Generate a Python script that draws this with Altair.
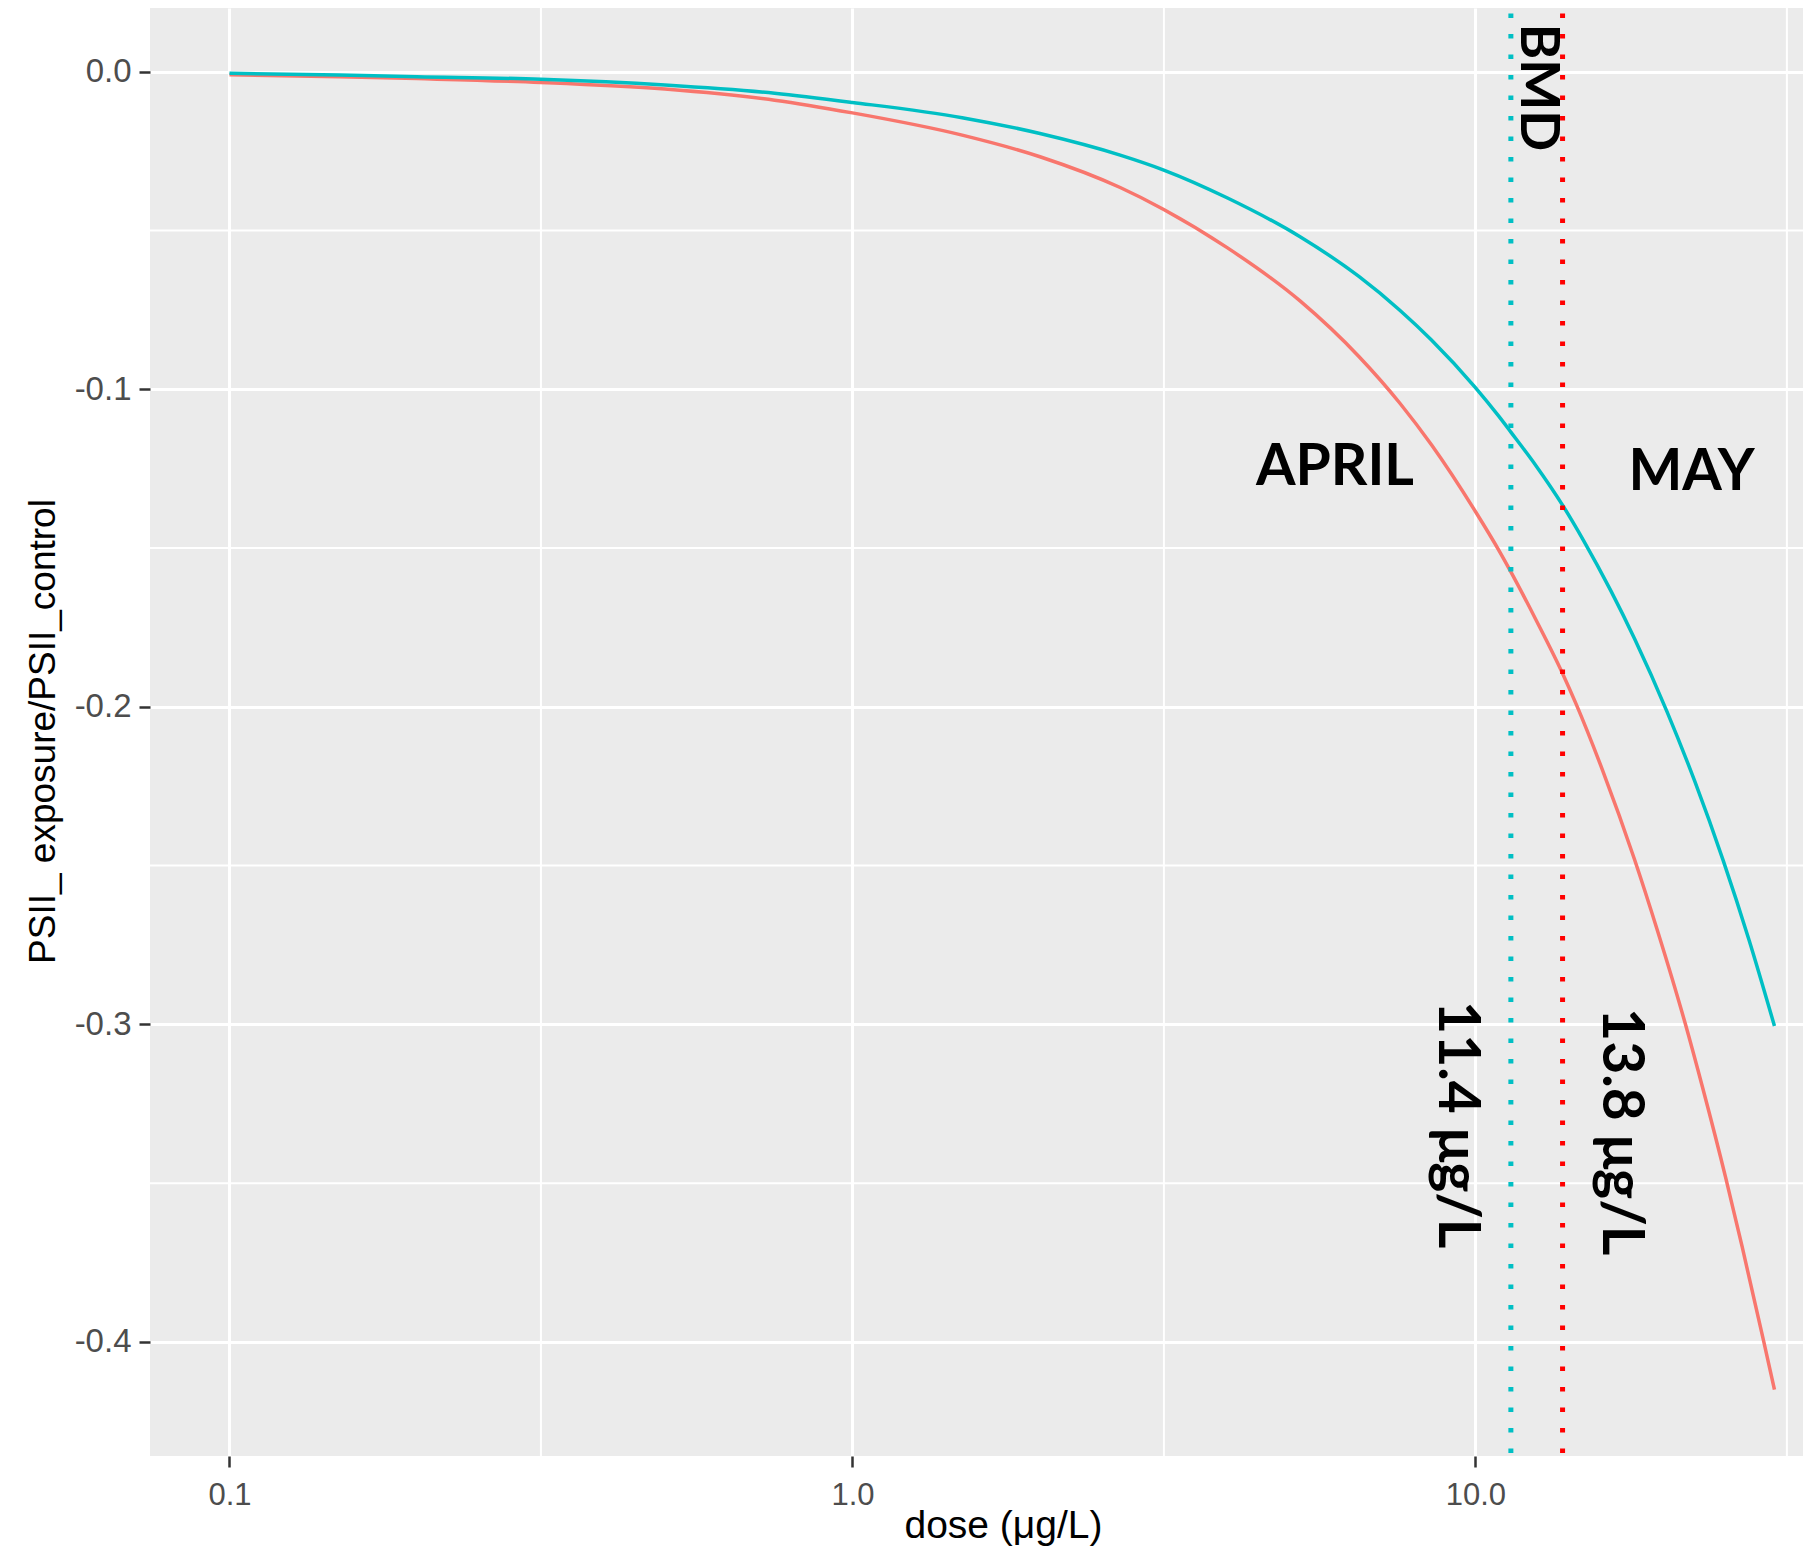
import altair as alt
import pandas as pd

# ---- data ----
april_dose = [0.1, 0.15, 0.2, 0.316, 0.5, 0.75, 1.0, 1.5, 2.0, 2.69, 3.16, 4.0, 5.23, 6.5, 7.57,
              8.5, 10.0, 10.94, 11.4, 12.5, 13.8, 14.5, 16.0, 18.0, 19.6, 21.7, 23.2, 25.2, 26.8, 29.0, 30.2]
april_resp = [-0.0010, -0.0016, -0.0022, -0.0034, -0.0055, -0.0090, -0.0130, -0.0200, -0.0268, -0.0365,
              -0.0434, -0.0555, -0.0722, -0.0897, -0.1045, -0.1175, -0.1385, -0.1512, -0.1575, -0.1725,
              -0.1895, -0.1990, -0.2200, -0.2480, -0.2705, -0.2995, -0.3205, -0.3480, -0.3700, -0.3995, -0.4150]

may_dose = [0.1, 0.15, 0.2, 0.316, 0.5, 0.75, 1.0, 1.5, 2.0, 2.69, 3.16, 4.0, 5.23, 6.5, 7.57,
            8.5, 10.0, 10.9, 11.4, 12.5, 13.8, 14.9, 16.5, 18.0, 20.3, 22.5, 25.0, 27.5, 30.2]
may_resp = [-0.0005, -0.0011, -0.0016, -0.0024, -0.0042, -0.0068, -0.0097, -0.0145, -0.0195, -0.0263,
            -0.0310, -0.0398, -0.0520, -0.0645, -0.0752, -0.0845, -0.0995, -0.1085, -0.1135, -0.1240,
            -0.1365, -0.1475, -0.1635, -0.1785, -0.2015, -0.2235, -0.2485, -0.2735, -0.3005]

bmd_dose = [11.4, 13.8]
bmd_color = ["#00BFC4", "#FF0000"]

month_text = ["APRIL", "MAY"]
month_dose = [5.95, 22.23]
month_resp = [-0.1302, -0.1317]

bmd_text = ["BMD"]
bmd_text_dose = [12.55]
bmd_text_resp = [-0.0050]

vert_text = ["11.4 μg/L", "13.8 μg/L"]
vert_dose = [9.30, 17.06]
vert_resp = [-0.3316, -0.3338]

x_major = [0.1, 1.0, 10.0]
x_minor = [0.3162, 3.162, 31.62]
y_major = [0.0, -0.1, -0.2, -0.3, -0.4]
y_minor = [-0.05, -0.15, -0.25, -0.35]
x_domain = [0.07455, 33.56]
y_domain = [-0.4359, 0.02003]

# ---- tables ----
df_april = pd.DataFrame({"dose": april_dose, "resp": april_resp})
df_may = pd.DataFrame({"dose": may_dose, "resp": may_resp})
df_bmd = pd.DataFrame({"dose": bmd_dose, "col": bmd_color})
df_month = pd.DataFrame({"label": month_text, "dose": month_dose, "resp": month_resp})
df_bmdtext = pd.DataFrame({"label": bmd_text, "dose": bmd_text_dose, "resp": bmd_text_resp})
df_vert = pd.DataFrame({"label": vert_text, "dose": vert_dose, "resp": vert_resp})
df_xminor = pd.DataFrame({"dose": x_minor})
df_yminor = pd.DataFrame({"resp": y_minor})

xs = alt.Scale(type="log", domain=x_domain, nice=False)
ys = alt.Scale(domain=y_domain, nice=False, zero=False)

FONT = "Liberation Sans"

x_axis = alt.Axis(
    values=x_major, format=".1f", grid=True, gridColor="white", gridWidth=3,
    domain=False, ticks=True, tickColor="#333333", tickSize=11, tickWidth=2.5,
    labelFont=FONT, labelFontSize=31, labelColor="#4D4D4D", labelPadding=13,
    labelFlush=False, labelOverlap=False,
    title="dose (μg/L)", titleFont=FONT, titleFontSize=39, titleFontWeight="normal",
    titleColor="#000000", titleX=853, titleY=81, titleAlign="center", titleBaseline="alphabetic",
)
y_axis = alt.Axis(
    values=y_major, labelExpr="replace(format(datum.value, '.1f'), '\u2212', '-')",
    grid=True, gridColor="white", gridWidth=3,
    domain=False, ticks=True, tickColor="#333333", tickSize=11, tickWidth=2.5,
    labelFont=FONT, labelFontSize=33, labelColor="#4D4D4D", labelPadding=8,
    labelFlush=False, labelOverlap=False,
    title="PSII_ exposure/PSII_control", titleFont=FONT, titleFontSize=37,
    titleFontWeight="normal", titleColor="#000000", titleAngle=270,
    titleX=-96, titleY=723, titleAlign="center", titleBaseline="alphabetic",
)

X = alt.X("dose:Q", scale=xs, axis=x_axis)
Y = alt.Y("resp:Q", scale=ys, axis=y_axis)

minor_x = alt.Chart(df_xminor).mark_rule(color="white", strokeWidth=2).encode(x=X)
minor_y = alt.Chart(df_yminor).mark_rule(color="white", strokeWidth=2).encode(y=Y)

april = alt.Chart(df_april).mark_line(color="#F8766D", strokeWidth=3.5, interpolate="monotone").encode(x=X, y=Y)
may = alt.Chart(df_may).mark_line(color="#00BFC4", strokeWidth=3.5, interpolate="monotone").encode(x=X, y=Y)

bmd = alt.Chart(df_bmd).mark_rule(strokeDash=[4.5, 16], strokeWidth=5, strokeDashOffset=15).encode(
    x=X,
    color=alt.Color("col:N", scale=None),
)

months = alt.Chart(df_month).mark_text(
    font="Lato", fontWeight="bold", fontSize=57, color="#000000",
    align="center", baseline="alphabetic",
).encode(x=X, y=Y, text="label:N")

bmd_label = alt.Chart(df_bmdtext).mark_text(
    font="Lato", fontWeight="bold", fontSize=54, color="#000000",
    align="center", baseline="middle", angle=90,
).encode(x=X, y=Y, text="label:N")

verts = alt.Chart(df_vert).mark_text(
    font="Lato", fontWeight="bold", fontSize=57, color="#000000",
    align="center", baseline="middle", angle=90,
).encode(x=X, y=Y, text="label:N")

chart = alt.layer(minor_x, minor_y, april, may, bmd, months, bmd_label, verts).properties(
    width=1653, height=1448,
    autosize=alt.AutoSizeParams(type="none"),
    padding={"left": 142, "top": 0, "right": 0, "bottom": 91},
    background="white",
).configure_view(fill="#EBEBEB", stroke=None)

chart.save("out.html", embed_options={"renderer": "svg", "actions": False})
